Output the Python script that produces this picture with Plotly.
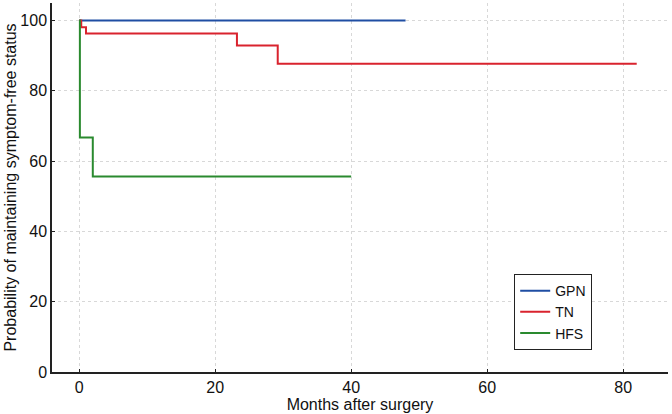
import plotly.graph_objects as go

gpn_x = [0, 48]
gpn_y = [100, 100]
tn_x = [0, 0.3, 1.0, 23.2, 29.2, 82]
tn_y = [100, 98.1, 96.3, 92.9, 87.7, 87.7]
hfs_x = [0, 0.1, 2.0, 40]
hfs_y = [100, 66.7, 55.6, 55.6]

x_ticks = [0, 20, 40, 60, 80]
y_ticks = [0, 20, 40, 60, 80, 100]

fig = go.Figure()
for name, xs, ys, col in [("GPN", gpn_x, gpn_y, "#1f4ea3"),
                          ("TN", tn_x, tn_y, "#d9232e"),
                          ("HFS", hfs_x, hfs_y, "#2a8a2f")]:
    fig.add_trace(go.Scatter(x=xs, y=ys, mode="lines", name=name,
                             line=dict(color=col, width=2, shape="hv")))

axis_common = dict(showline=True, linecolor="#222", linewidth=1.5,
                   showgrid=True, gridcolor="#d8d8d8", griddash="dot", gridwidth=1,
                   zeroline=False, ticks="inside", ticklen=3, tickcolor="#222",
                   tickfont=dict(size=16, color="#111"), mirror=False,
                   automargin=False)

fig.update_xaxes(range=[-4, 86.6], tickvals=x_ticks,
                 title=dict(text="Months after surgery", font=dict(size=16, color="#111"), standoff=0),
                 **axis_common)
fig.update_yaxes(range=[0, 105], tickvals=y_ticks,
                 title=dict(text="Probability of maintaining symptom-free status", font=dict(size=16, color="#111"), standoff=0),
                 **axis_common)

fig.update_layout(
    width=672, height=414,
    margin=dict(l=52, r=4, t=3, b=42),
    plot_bgcolor="white", paper_bgcolor="white",
    font=dict(family="Liberation Sans, Arial, sans-serif", color="#111"),
    legend=dict(x=0.75, y=0.266, xanchor="left", yanchor="top",
                bordercolor="#222", borderwidth=1.2, bgcolor="white",
                font=dict(size=14), tracegroupgap=0, itemwidth=30),
    showlegend=True,
)

fig.write_html("out.html", config={"displayModeBar": False},
               post_script="document.body.style.margin='0px';document.body.style.overflow='hidden';")
